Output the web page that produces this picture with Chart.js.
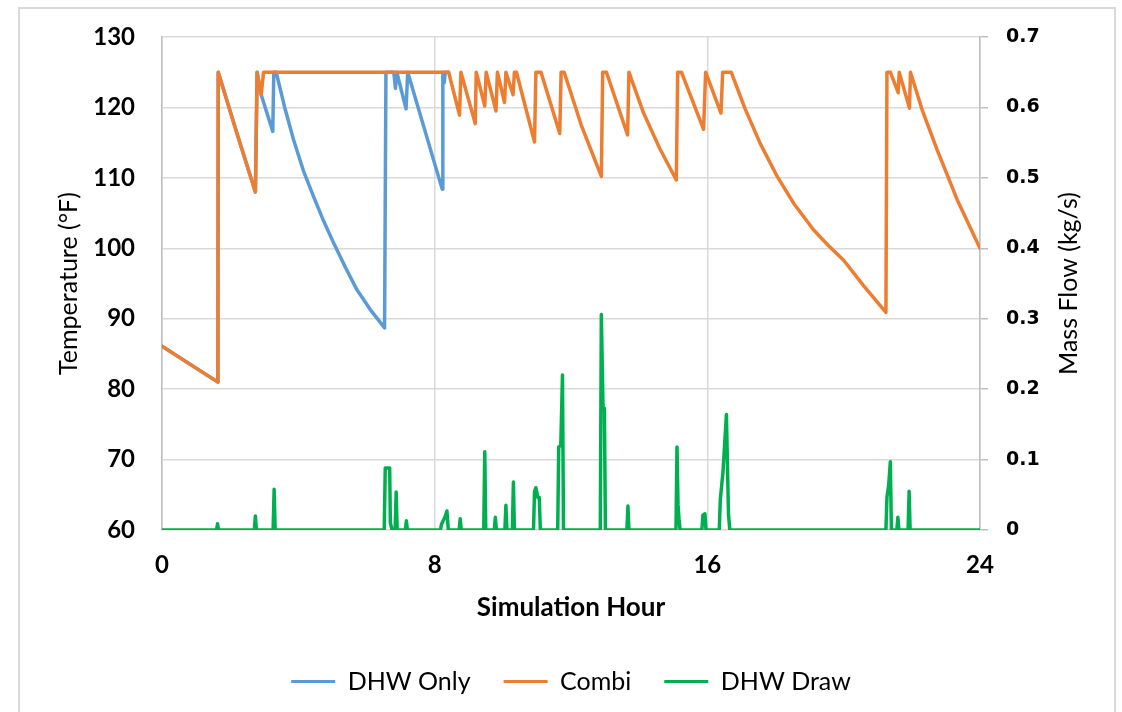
<!DOCTYPE html>
<html lang="en">
<head>
  <meta charset="UTF-8">
  <title>DHW Only vs Combi - Tank Temperature</title>
  <script src="https://cdn.jsdelivr.net/npm/chart.js"></script>
  <style>
    body {
      margin: 0;
      background: #fff;
    }
    .frame {
      position: relative;
      width: 1122px;
      height: 712px;
      overflow: hidden;
    }
    .border {
      position: absolute;
      left: 18px;
      top: 7px;
      width: 1094px;
      height: 740px;
      border: 2px solid #d9d9d9;
    }
    canvas {
      position: absolute;
      left: 0;
      top: 0;
    }
  </style>
</head>
<body>
  <div class="frame">
    <div class="border"></div>
    <canvas id="tempChart" width="1122" height="712"></canvas>
  </div>

  <script>
    // Combi tank temperature (deg F) by simulation hour
    const combiHours = [0, 1.64, 1.65, 2.20, 2.74, 2.79, 2.91, 2.98, 8.41, 8.73, 8.77, 9.19, 9.22, 9.47, 9.51, 9.80, 9.84, 10.05, 10.09, 10.30, 10.34, 10.40, 10.93, 10.97, 11.12, 11.67, 11.71, 11.80, 12.30, 12.89, 12.93, 13.04, 13.66, 13.70, 14.13, 14.60, 15.09, 15.13, 15.24, 15.89, 15.95, 16.40, 16.45, 16.70, 17.10, 17.55, 18.05, 18.53, 19.12, 19.55, 20.00, 20.60, 21.24, 21.27, 21.37, 21.60, 21.63, 21.93, 21.96, 22.30, 22.74, 23.33, 24.00];
    const combiTemps = [86.1, 81.0, 125, 116.3, 108.0, 125, 121.8, 125, 125, 118.9, 125, 117.7, 125, 120.2, 125, 119.5, 125, 120.7, 125, 121.8, 125, 125, 115.1, 125, 125, 116.3, 125, 125, 117.5, 110.2, 125, 125, 116.1, 125, 119.2, 114.2, 109.7, 125, 125, 116.9, 125, 119.2, 125, 125, 119.9, 114.9, 110.2, 106.4, 102.6, 100.4, 98.3, 94.6, 90.9, 125, 125, 122.1, 125, 119.9, 125, 119.7, 114.0, 106.9, 100.0];

    // DHW-only tank temperature (deg F)
    const dhwOnlyHours = [0, 1.64, 1.65, 2.20, 2.74, 2.79, 2.91, 3.25, 3.28, 3.35, 3.60, 3.86, 4.15, 4.45, 4.74, 5.04, 5.38, 5.72, 6.11, 6.53, 6.57, 6.80, 6.85, 6.89, 7.16, 7.21, 8.22, 8.24, 8.28, 8.31, 8.41];
    const dhwOnlyTemps = [86.1, 81.0, 125, 116.3, 108.0, 125, 121.8, 116.6, 125, 125, 120.0, 115.4, 111.0, 107.3, 103.9, 100.7, 97.3, 94.1, 91.3, 88.7, 125, 125, 122.7, 125, 119.8, 125, 108.4, 125, 123.5, 125, 125];

    // DHW draw mass flow (kg/s)
    const drawHours = [0, 1.60, 1.63, 1.66, 2.71, 2.74, 2.77, 3.26, 3.29, 3.32, 6.52, 6.55, 6.68, 6.70, 6.75, 6.84, 6.87, 6.90, 7.14, 7.17, 7.20, 8.17, 8.20, 8.25, 8.30, 8.36, 8.40, 8.72, 8.75, 8.78, 9.44, 9.47, 9.50, 9.75, 9.78, 9.81, 10.06, 10.09, 10.12, 10.28, 10.31, 10.34, 10.90, 10.93, 10.97, 11.03, 11.07, 11.10, 11.61, 11.64, 11.70, 11.75, 11.78, 12.86, 12.89, 12.94, 12.98, 13.01, 13.64, 13.67, 13.70, 15.08, 15.11, 15.14, 15.17, 15.20, 15.84, 15.87, 15.93, 15.96, 16.35, 16.38, 16.46, 16.56, 16.62, 16.66, 21.24, 21.27, 21.32, 21.37, 21.40, 21.56, 21.59, 21.62, 21.89, 21.92, 21.95, 24];
    const drawFlows = [0, 0, 0.009, 0, 0, 0.02, 0, 0, 0.058, 0, 0, 0.088, 0.088, 0.01, 0, 0, 0.054, 0, 0, 0.013, 0, 0, 0.008, 0.013, 0.018, 0.027, 0, 0, 0.016, 0, 0, 0.111, 0, 0, 0.018, 0, 0, 0.035, 0, 0, 0.068, 0, 0, 0.055, 0.06, 0.046, 0.046, 0, 0, 0.118, 0.12, 0.22, 0, 0, 0.306, 0.173, 0.173, 0, 0, 0.034, 0, 0, 0.118, 0.036, 0.015, 0, 0, 0.021, 0.023, 0, 0, 0.043, 0.083, 0.164, 0.023, 0, 0, 0.047, 0.063, 0.097, 0, 0, 0.018, 0, 0, 0.055, 0, 0];

    // Axis ticks
    const hourTicks = [0, 8, 16, 24];
    const tempTicks = [60, 70, 80, 90, 100, 110, 120, 130];
    const flowTicks = [0, 0.1, 0.2, 0.3, 0.4, 0.5, 0.6, 0.7];

    const toPoints = (xs, ys) => xs.map((x, i) => ({ x: x, y: ys[i] }));

    const gridGrey = '#d9d9d9';
    const axisGrey = '#bfbfbf';
    const labelFont = 'Lato, "Liberation Sans", sans-serif';

    // fixed side-axis width; tick padding must not push the plot top down
    const fitSideAxis = axis => {
      axis.width = 142;
      axis.paddingTop = 15;
      axis.paddingBottom = 15;
    };

    // Right-hand axis title, reads bottom to top like the left one
    const rightTitle = {
      id: 'rightTitle',
      afterDraw(chart) {
        const { ctx, chartArea } = chart;
        ctx.save();
        ctx.translate(1069, (chartArea.top + chartArea.bottom) / 2);
        ctx.rotate(-Math.PI / 2);
        ctx.font = '25px ' + labelFont;
        ctx.fillStyle = '#000';
        ctx.textAlign = 'center';
        ctx.textBaseline = 'middle';
        ctx.fillText('Mass Flow (kg/s)', 0, 0);
        ctx.restore();
      }
    };

    const ctx = document.getElementById('tempChart').getContext('2d');

    new Chart(ctx, {
      type: 'line',
      data: {
        datasets: [
          {
            label: 'DHW Only',
            data: toPoints(dhwOnlyHours, dhwOnlyTemps),
            borderColor: '#5B9BD5',
            backgroundColor: '#5B9BD5',
            yAxisID: 'y',
            order: 2
          },
          {
            label: 'Combi',
            data: toPoints(combiHours, combiTemps),
            borderColor: '#ED7D31',
            backgroundColor: '#ED7D31',
            yAxisID: 'y',
            order: 1
          },
          {
            label: 'DHW Draw',
            data: toPoints(drawHours, drawFlows),
            borderColor: '#00B050',
            backgroundColor: '#00B050',
            yAxisID: 'y2',
            order: 0
          }
        ]
      },
      options: {
        responsive: false,
        animation: false,
        layout: {
          padding: { left: 20, right: 0, top: 37, bottom: 8 }
        },
        elements: {
          line: { borderWidth: 3.5, tension: 0, borderJoinStyle: 'round', borderCapStyle: 'round' },
          point: { radius: 0 }
        },
        plugins: {
          tooltip: { enabled: false },
          legend: {
            position: 'bottom',
            labels: {
              color: '#000',
              font: { family: labelFont, size: 25 },
              boxWidth: 44,
              boxHeight: 3,
              padding: 33,
              sort: (a, b) => a.datasetIndex - b.datasetIndex,
              generateLabels(chart) {
                const items = Chart.defaults.plugins.legend.labels.generateLabels(chart);
                items.forEach(it => { it.lineWidth = 0; it.fillStyle = it.strokeStyle; });
                return items;
              }
            }
          }
        },
        scales: {
          x: {
            type: 'linear',
            min: 0,
            max: 24,
            afterBuildTicks: axis => { axis.ticks = hourTicks.map(v => ({ value: v })); },
            afterFit: axis => { axis.height = 106; },
            ticks: {
              color: '#000',
              padding: 21,
              font: { family: labelFont, size: 24, weight: 'bold' }
            },
            grid: { color: gridGrey, lineWidth: 1.5, drawTicks: false },
            border: { display: false },
            title: {
              display: true,
              text: 'Simulation Hour',
              color: '#000',
              font: { family: labelFont, size: 26, weight: 'bold' },
              padding: { top: 0, bottom: 13 }
            }
          },
          y: {
            position: 'left',
            min: 60,
            max: 130,
            afterBuildTicks: axis => { axis.ticks = tempTicks.map(v => ({ value: v })); },
            afterFit: fitSideAxis,
            ticks: {
              color: '#000',
              padding: 27,
              font: { family: labelFont, size: 24, weight: 'bold' }
            },
            grid: { color: gridGrey, lineWidth: 1.5, drawTicks: false },
            border: { display: true, color: axisGrey, width: 1.5 },
            title: {
              display: true,
              text: 'Temperature (°F)',
              color: '#000',
              font: { family: labelFont, size: 25 },
              padding: { top: 34, bottom: 0 }
            }
          },
          y2: {
            position: 'right',
            min: 0,
            max: 0.7,
            afterBuildTicks: axis => { axis.ticks = flowTicks.map(v => ({ value: v })); },
            afterFit: fitSideAxis,
            ticks: {
              color: '#000',
              padding: 18,
              font: { family: '"DejaVu Sans", Verdana, sans-serif', size: 19, weight: 'bold' },
              callback: v => String(+v.toFixed(1))
            },
            grid: { drawOnChartArea: false, drawTicks: true, tickLength: 8, color: axisGrey, lineWidth: 1.5 },
            border: { display: true, color: axisGrey, width: 1.5 }
          }
        }
      },
      plugins: [rightTitle]
    });
  </script>
</body>
</html>
